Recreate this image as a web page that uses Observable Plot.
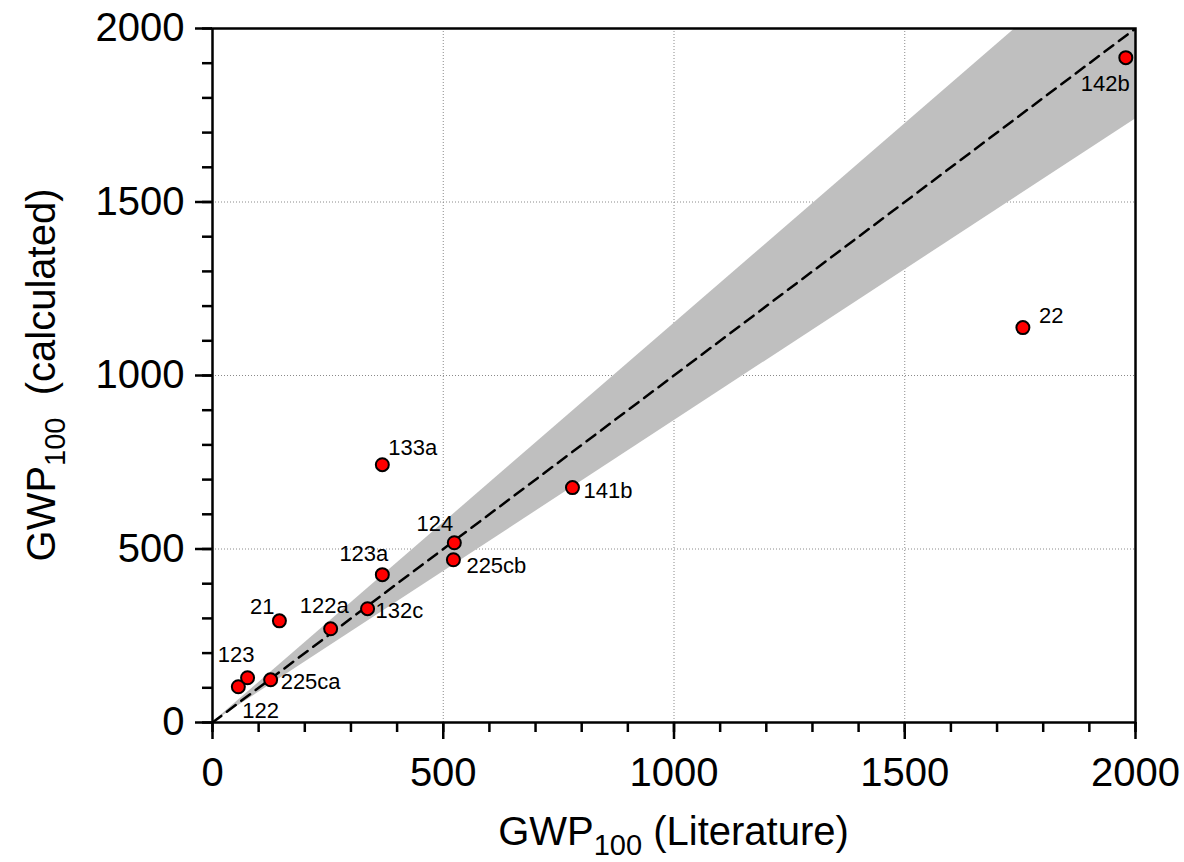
<!DOCTYPE html>
<html>
<head>
<meta charset="utf-8">
<script src="https://cdn.jsdelivr.net/npm/d3@7"></script>
<script src="https://cdn.jsdelivr.net/npm/@observablehq/plot@0.6"></script>
<style>
  html, body { margin: 0; padding: 0; background: #ffffff; }
  #chart svg { display: block; }
</style>
</head>
<body>
<div id="chart"></div>
<script>
// ---- data ----
const compounds  = ["122", "123", "225ca", "21", "122a", "132c", "123a", "133a", "124", "225cb", "141b", "22", "142b"];
const literature = [56, 76, 126, 145, 256, 336, 368, 368, 524, 522, 780, 1756, 1979];
const calculated = [103, 129, 123, 293, 270, 328, 426, 743, 518, 469, 677, 1138, 1916];
const majorTicks = [0, 500, 1000, 1500, 2000];
const minorTicks = [0, 100, 200, 300, 400, 500, 600, 700, 800, 900, 1000, 1100, 1200, 1300, 1400, 1500, 1600, 1700, 1800, 1900, 2000];
const gridValues = [500, 1000, 1500];
const diagonalRange = [0, 2000];
const bandFactor = 1.15;

// ---- layout / styling (separate from data) ----
const labelPlacement = {
  "133a":  {anchor: "start", dx: 6,  dy: -10},
  "124":   {anchor: "end",   dx: -1, dy: -12},
  "225cb": {anchor: "start", dx: 13, dy: 13},
  "123a":  {anchor: "end",   dx: 6,  dy: -14},
  "132c":  {anchor: "start", dx: 8,  dy: 9},
  "122a":  {anchor: "end",   dx: 18, dy: -16},
  "21":    {anchor: "end",   dx: -5, dy: -7},
  "123":   {anchor: "end",   dx: 7,  dy: -16},
  "122":   {anchor: "start", dx: 4,  dy: 31},
  "225ca": {anchor: "start", dx: 10, dy: 9},
  "141b":  {anchor: "start", dx: 11, dy: 10},
  "142b":  {anchor: "end",   dx: 4,  dy: 33},
  "22":    {anchor: "start", dx: 16, dy: -5}
};

const points = compounds.map((name, i) => ({name, lit: literature[i], calc: calculated[i]}));
const FONT = "'Liberation Sans', Arial, Helvetica, sans-serif";

const labelMarks = points.map(p => {
  const pl = labelPlacement[p.name];
  return Plot.text([p], {
    x: "lit", y: "calc", text: "name",
    dx: pl.dx, dy: pl.dy, textAnchor: pl.anchor, lineAnchor: "bottom",
    fontSize: 22, fill: "black"
  });
});

const W = 1184, H = 862;
const mL = 212, mR = 49, mT = 28, mB = 140;

const chart = Plot.plot({
  width: W, height: H,
  marginLeft: mL, marginRight: mR, marginTop: mT, marginBottom: mB,
  style: {fontFamily: FONT, background: "white", color: "black", overflow: "visible"},
  x: {domain: [0, 2000]},
  y: {domain: [0, 2000]},
  marks: [
    Plot.gridX(gridValues, {stroke: "#8a8a8a", strokeOpacity: 1, strokeWidth: 1, strokeDasharray: "1,2"}),
    Plot.gridY(gridValues, {stroke: "#8a8a8a", strokeOpacity: 1, strokeWidth: 1, strokeDasharray: "1,2"}),
    Plot.areaY(diagonalRange, {x: d => d, y1: d => d / bandFactor, y2: d => d * bandFactor, fill: "#bfbfbf", clip: true}),
    Plot.line(diagonalRange, {x: d => d, y: d => d, stroke: "black", strokeWidth: 2.5, strokeDasharray: "11,7", clip: true}),
    Plot.axisX(minorTicks, {tickSize: 10, strokeWidth: 2.5, tickFormat: () => "", label: null}),
    Plot.axisY(minorTicks, {tickSize: 10, strokeWidth: 2.5, tickFormat: () => "", label: null}),
    Plot.axisX(majorTicks, {tickSize: 17, strokeWidth: 2.5, tickPadding: 18, fontSize: 40, label: null, tickFormat: d => String(d)}),
    Plot.axisY(majorTicks, {tickSize: 17, strokeWidth: 2.5, tickPadding: 11, fontSize: 40, label: null, tickFormat: d => String(d)}),
    Plot.frame({stroke: "black", strokeWidth: 2.5}),
    Plot.dot(points, {x: "lit", y: "calc", r: 6.5, fill: "#ff0000", stroke: "black", strokeWidth: 2}),
    ...labelMarks
  ]
});

// Axis titles with true subscripts
const svg = d3.select(chart);
const xt = svg.append("text")
  .attr("x", (mL + (W - mR)) / 2)
  .attr("y", 845)
  .attr("text-anchor", "middle")
  .attr("font-family", FONT)
  .attr("font-size", 40)
  .attr("fill", "black");
xt.append("tspan").text("GWP");
xt.append("tspan").attr("font-size", 29).attr("dy", 10).text("100");
xt.append("tspan").attr("dy", -10).text(" (Literature)");

const yt = svg.append("text")
  .attr("transform", `translate(55,${(mT + (H - mB)) / 2}) rotate(-90)`)
  .attr("text-anchor", "middle")
  .attr("font-family", FONT)
  .attr("font-size", 40)
  .attr("fill", "black")
  .attr("xml:space", "preserve")
  .style("white-space", "pre");
yt.append("tspan").text("GWP");
yt.append("tspan").attr("font-size", 29).attr("dy", 10).text("100");
yt.append("tspan").attr("dy", -10).text("  (calculated)");

document.getElementById("chart").appendChild(chart);
</script>
</body>
</html>
